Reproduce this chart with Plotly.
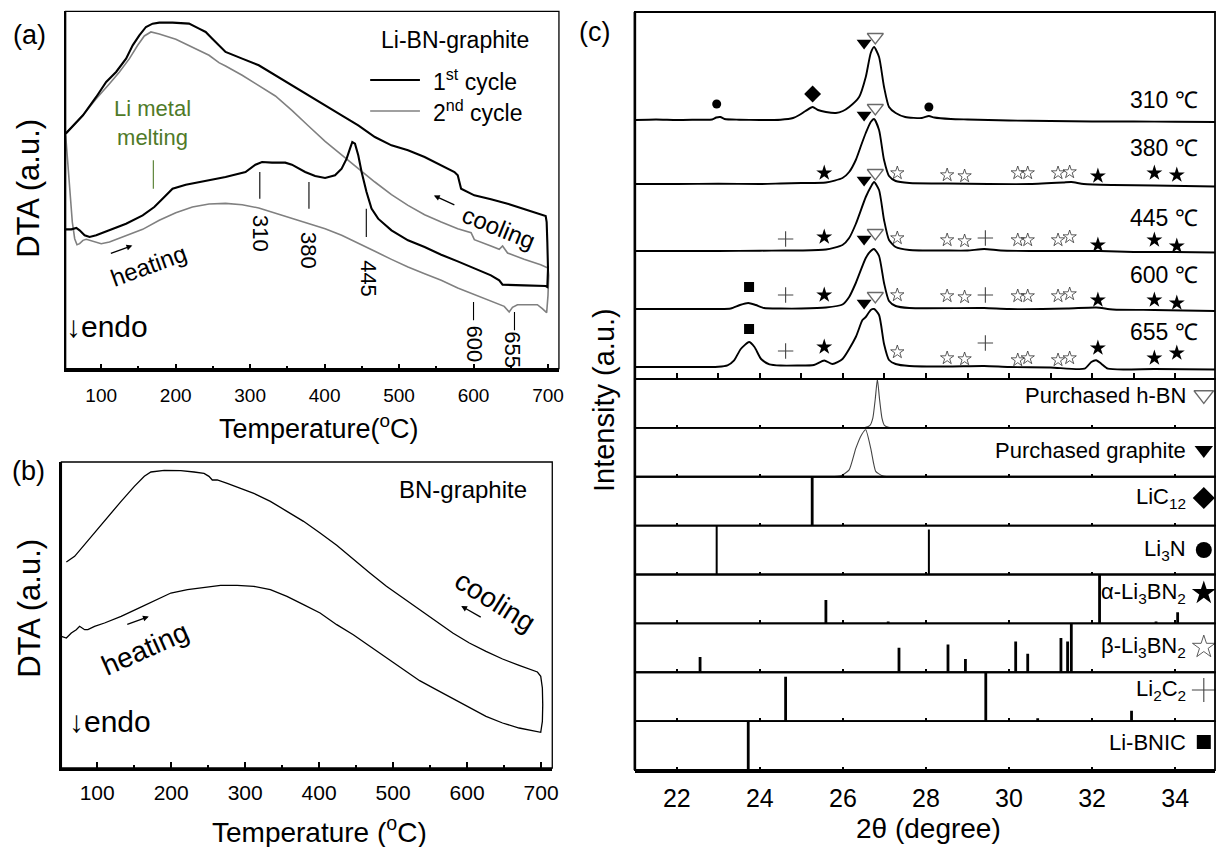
import plotly.graph_objects as go

W, H = 1223, 847
FONT = "Liberation Sans, Arial, Helvetica, sans-serif"

# ======================= DATA =======================
temp_ticks = [100, 200, 300, 400, 500, 600, 700]

# (a) Li-BN-graphite DTA, (temperature degC, DTA a.u.) - heating then cooling
dta_a_cycle1 = [(52.3, 41.8), (59.9, 41.8), (66.6, 42.2), (71.0, 41.5), (77.7, 40.0), (84.4, 39.5), (93.3, 40.0),
                (111.1, 41.5), (133.4, 43.5), (155.7, 46.0), (171.3, 48.5), (182.4, 51.0), (195.8, 54.0),
                (213.6, 55.2), (244.8, 56.5), (267.0, 57.5), (293.8, 59.0), (307.1, 61.2), (316.0, 62.0),
                (329.4, 61.8), (347.2, 61.8), (356.1, 61.2), (373.9, 59.0), (387.3, 57.8), (400.7, 57.2),
                (414.0, 58.0), (422.9, 60.0), (429.6, 63.0), (434.1, 66.0), (437.2, 68.0), (440.8, 67.5),
                (445.2, 64.0), (449.7, 59.0), (456.3, 53.0), (463.0, 48.0), (471.9, 45.0), (489.8, 41.5),
                (512.0, 38.5), (534.3, 36.5), (556.6, 34.2), (578.8, 32.2), (601.1, 30.0), (623.4, 28.0),
                (634.5, 26.5), (639.0, 25.2), (667.9, 25.0), (696.9, 24.8), (699.1, 24.5), (700.0, 30.0),
                (699.1, 38.0), (698.2, 44.0), (696.9, 45.8), (667.9, 48.0), (645.7, 49.5), (623.4, 50.8),
                (601.1, 52.0), (583.3, 54.0), (578.8, 58.0), (574.4, 59.0), (556.6, 61.0), (534.3, 63.5),
                (512.0, 65.5), (489.8, 67.0), (467.5, 69.5), (445.2, 73.0), (422.9, 76.0), (400.7, 79.0),
                (378.4, 82.0), (356.1, 85.0), (333.9, 88.0), (311.6, 91.0), (289.3, 93.0), (267.0, 95.0),
                (249.2, 99.0), (240.3, 101.0), (231.4, 102.0), (218.0, 103.5), (195.8, 103.8), (178.0, 103.8),
                (169.0, 103.5), (160.1, 102.5), (151.2, 100.0), (142.3, 97.0), (133.4, 93.0), (120.0, 89.0),
                (106.7, 86.0), (93.3, 81.5), (75.5, 76.0), (62.1, 73.0), (52.3, 70.5)]

dta_a_cycle2 = [(52.3, 70.0), (55.5, 61.0), (57.7, 52.0), (61.2, 44.0), (64.4, 39.0), (67.5, 37.2), (71.0, 37.5),
                (75.5, 38.5), (80.0, 38.8), (88.9, 38.3), (100.0, 37.5), (111.1, 38.0), (133.4, 39.8),
                (155.7, 41.8), (178.0, 44.5), (200.2, 46.8), (222.5, 48.5), (244.8, 49.4), (267.0, 49.6),
                (289.3, 49.2), (311.6, 48.2), (333.9, 46.7), (356.1, 45.2), (378.4, 43.7), (400.7, 42.0),
                (422.9, 40.0), (445.2, 37.7), (467.5, 35.2), (489.8, 32.8), (512.0, 30.5), (534.3, 28.5),
                (556.6, 26.5), (578.8, 24.2), (601.1, 22.2), (623.4, 20.2), (641.2, 18.7), (647.9, 17.0),
                (652.3, 18.4), (659.0, 19.2), (685.7, 19.2), (692.4, 18.0), (698.2, 16.8), (700.0, 22.0),
                (700.9, 28.0), (700.0, 30.2), (690.2, 31.2), (667.9, 32.8), (645.7, 34.7), (639.0, 36.8),
                (634.5, 35.8), (623.4, 36.8), (601.1, 38.7), (596.7, 40.8), (578.8, 42.0), (556.6, 44.0),
                (534.3, 46.2), (512.0, 49.0), (489.8, 52.2), (467.5, 56.0), (445.2, 60.0), (422.9, 64.0),
                (400.7, 68.2), (378.4, 72.8), (356.1, 77.5), (333.9, 81.8), (311.6, 85.0), (289.3, 88.0),
                (267.0, 90.8), (258.1, 91.8), (244.8, 94.0), (222.5, 96.5), (200.2, 98.8), (178.0, 100.4),
                (166.8, 101.0), (157.9, 99.8), (149.0, 97.0), (137.9, 93.0), (124.5, 89.0), (111.1, 85.5),
                (93.3, 81.0), (75.5, 76.0), (62.1, 73.0), (52.3, 70.5)]

# (b) BN-graphite DTA
dta_b = [(51.6, 39.5), (58.3, 39.0), (65.0, 40.5), (71.7, 41.5), (76.2, 42.5), (83.0, 41.5), (87.4, 41.5),
         (96.4, 42.5), (109.9, 43.5), (132.3, 45.5), (154.7, 47.8), (177.1, 50.2), (199.6, 52.5), (222.0, 53.5),
         (244.4, 54.2), (266.8, 54.8), (289.2, 54.8), (311.7, 54.5), (334.1, 53.5), (356.5, 51.5), (378.9, 49.0),
         (401.3, 46.5), (423.8, 43.0), (446.2, 40.0), (468.6, 36.5), (491.0, 33.0), (513.5, 29.5), (535.9, 26.2),
         (558.3, 23.5), (580.7, 20.8), (603.1, 18.0), (625.6, 15.5), (648.0, 13.5), (670.4, 12.0), (699.6, 10.7),
         (701.8, 14.0), (702.3, 19.0), (701.8, 24.0), (699.6, 27.5), (695.1, 28.8), (670.4, 30.8), (648.0, 32.7),
         (625.6, 35.0), (603.1, 37.5), (580.7, 40.5), (558.3, 44.0), (535.9, 47.5), (513.5, 51.0), (491.0, 54.5),
         (468.6, 58.5), (446.2, 62.8), (423.8, 66.8), (401.3, 70.5), (378.9, 74.0), (356.5, 77.0), (334.1, 80.0),
         (311.7, 82.4), (293.7, 84.0), (275.8, 85.4), (262.3, 86.4), (255.6, 86.4), (251.1, 87.5), (244.4, 88.4),
         (230.9, 88.8), (213.0, 89.2), (190.6, 89.3), (172.6, 88.8), (163.7, 87.5), (150.2, 84.5), (132.3, 80.0),
         (109.9, 74.0), (87.4, 68.0), (69.5, 63.5), (58.3, 61.8)]

a_event_T = [313, 379, 456, 600, 655]
a_event_text = ["310", "380", "445", "600", "655"]
a_melt_T = 170

# (c) XRD, (2theta, intensity above own baseline)
two_theta_ticks = [22, 24, 26, 28, 30, 32, 34]
xrd_labels = ["310 ℃", "380 ℃", "445 ℃", "600 ℃", "655 ℃"]
xrd_310 = [(21.0, 0), (21.5, 0.5), (22.0, 0), (22.5, 0.3), (22.85, 0.5), (22.95, 2.5), (23.05, 3), (23.15, 1),
           (23.5, 0.3), (24.0, 0), (24.5, 0.3), (24.8, 2), (24.95, 5), (25.1, 9), (25.27, 13), (25.4, 10),
           (25.59, 8), (25.83, 7), (26.0, 9), (26.15, 13), (26.39, 23), (26.55, 43), (26.67, 67), (26.75, 73),
           (26.87, 63), (26.99, 33), (27.11, 13), (27.27, 7), (27.5, 3), (27.9, 2), (28.07, 4), (28.2, 2.5),
           (28.6, 1), (29.0, 0.5), (29.5, 0), (30.0, -0.5), (31.0, -1), (32.0, -1.5), (33.0, -1.5), (34.0, -1.8),
           (34.96, -2)]
xrd_380 = [(21.0, 0), (22.0, 0), (23.0, 0.3), (24.0, 0), (24.5, 0.5), (25.0, 1), (25.59, 1.5), (25.99, 6),
           (26.15, 12), (26.31, 24), (26.45, 40), (26.55, 51), (26.67, 62), (26.75, 65), (26.87, 54), (26.99, 24),
           (27.11, 8), (27.27, 3), (27.6, 1), (28.5, 0.5), (29.5, 0), (30.5, 0), (31.3, 1.5), (31.5, 2),
           (31.8, 0), (32.5, -1), (33.5, -1.5), (34.96, -2.5)]
xrd_445 = [(21.0, 0), (22.0, 0), (23.0, 0), (24.0, 0.3), (24.6, 0.5), (25.0, 0.5), (25.59, 1.5), (25.99, 6),
           (26.15, 13), (26.31, 27), (26.55, 54), (26.67, 64), (26.75, 69), (26.87, 61), (26.99, 31), (27.11, 11),
           (27.27, 4), (27.6, 1), (28.5, 0.5), (29.0, 0.5), (29.4, 2), (29.8, 0.5), (30.5, 0), (31.5, 0),
           (32.2, 0), (33.0, -1), (34.0, -1), (34.96, -1.5)]
xrd_600 = [(21.0, 0), (22.0, 0), (23.0, 0), (23.3, 0.5), (23.52, 4), (23.72, 6), (23.9, 4), (24.1, 1), (24.5, 0.5),
           (25.0, 0.5), (25.59, 1.5), (25.99, 4.5), (26.15, 12), (26.31, 26), (26.55, 51), (26.67, 58),
           (26.75, 60), (26.87, 53), (26.99, 26), (27.11, 8), (27.27, 3), (27.6, 1), (29.4, 1), (30.0, 0),
           (31.4, 0.5), (32.1, 1.5), (32.5, -0.5), (33.5, -1), (34.2, -1.5), (34.96, -2)]
xrd_655 = [(21.0, 0), (22.0, 0), (23.0, 0.3), (23.22, 1.7), (23.38, 6.7), (23.54, 18), (23.74, 25), (23.87, 20),
           (24.03, 8), (24.23, 2.7), (24.5, 1.5), (24.9, 1.5), (25.3, 2), (25.55, 6.5), (25.75, 3), (25.99, 8),
           (26.31, 30), (26.47, 47), (26.55, 50), (26.67, 57), (26.75, 58), (26.87, 52), (26.99, 23), (27.11, 7),
           (27.27, 3), (27.6, 1), (28.5, 0.5), (29.4, 1), (30.0, 0), (31.0, -0.5), (31.82, -1.7), (31.98, 5),
           (32.1, 6.7), (32.22, 3.3), (32.38, -1.7), (33.5, -2), (34.96, -2.5)]
xrd_patterns = [xrd_310, xrd_380, xrd_445, xrd_600, xrd_655]

# phase markers above each pattern: (phase, 2theta, height above baseline)
xrd_marks = [
    [("Li3N", 22.96, 16), ("LiC12", 25.27, 26), ("graphite", 26.51, 77), ("hBN", 26.78, 83), ("Li3N", 28.07, 13)],
    [("alpha", 25.55, 11), ("graphite", 26.51, 69), ("hBN", 26.78, 76), ("beta", 27.31, 11), ("beta", 28.51, 9),
     ("beta", 28.93, 8), ("beta", 30.21, 11), ("beta", 30.45, 11), ("beta", 31.18, 11), ("beta", 31.46, 12),
     ("alpha", 32.14, 8), ("alpha", 33.5, 11), ("alpha", 34.04, 9)],
    [("Li2C2", 24.62, 12), ("alpha", 25.55, 14), ("graphite", 26.51, 71), ("hBN", 26.78, 78), ("beta", 27.31, 13),
     ("beta", 28.51, 11), ("beta", 28.93, 10), ("Li2C2", 29.43, 13), ("beta", 30.21, 11), ("beta", 30.45, 11),
     ("beta", 31.18, 11), ("beta", 31.46, 14), ("alpha", 32.14, 6), ("alpha", 33.5, 11), ("alpha", 34.04, 5)],
    [("BNIC", 23.74, 22), ("Li2C2", 24.62, 14), ("alpha", 25.55, 14), ("graphite", 26.51, 70), ("hBN", 26.78, 76),
     ("beta", 27.31, 14), ("beta", 28.51, 13), ("beta", 28.93, 12), ("Li2C2", 29.43, 14), ("beta", 30.21, 13),
     ("beta", 30.45, 13), ("beta", 31.18, 13), ("beta", 31.46, 15), ("alpha", 32.14, 9), ("alpha", 33.5, 9),
     ("alpha", 34.04, 6)],
    [("BNIC", 23.74, 38), ("Li2C2", 24.62, 16), ("alpha", 25.55, 20), ("graphite", 26.51, 64), ("hBN", 26.78, 71),
     ("beta", 27.31, 15), ("beta", 28.51, 9), ("beta", 28.93, 8), ("Li2C2", 29.43, 24), ("beta", 30.21, 7),
     ("beta", 30.45, 9), ("beta", 31.18, 7), ("beta", 31.46, 9), ("alpha", 32.14, 19), ("alpha", 33.5, 9),
     ("alpha", 34.04, 14)],
]

ref_labels = ["Purchased h-BN", "Purchased graphite", "LiC<sub>12</sub>", "Li<sub>3</sub>N",
              "α-Li<sub>3</sub>BN<sub>2</sub>", "β-Li<sub>3</sub>BN<sub>2</sub>", "Li<sub>2</sub>C<sub>2</sub>",
              "Li-BNIC"]
ref_keys = ["hBN", "graphite", "LiC12", "Li3N", "alpha", "beta", "Li2C2", "BNIC"]
ref_hbn = [(26.3, 0), (26.55, 1), (26.65, 5), (26.72, 20), (26.78, 60), (26.83, 100), (26.88, 60), (26.94, 20),
           (27.0, 5), (27.1, 1), (27.4, 0)]
ref_graphite = [(25.71, 0), (25.95, 2), (26.15, 14), (26.31, 58), (26.45, 86), (26.55, 96), (26.67, 58),
                (26.79, 11), (26.95, 2), (27.1, 0)]
ref_sticks = {
    "LiC12": [(25.26, 100)],
    "Li3N": [(22.96, 100), (28.07, 92)],
    "alpha": [(25.59, 48), (27.09, 4), (32.18, 100), (33.54, 4), (34.06, 23)],
    "beta": [(22.56, 31), (27.35, 50), (28.53, 57), (28.95, 27), (30.16, 63), (30.45, 38), (31.25, 70),
             (31.41, 63), (31.5, 100)],
    "Li2C2": [(24.62, 91), (29.44, 100), (30.69, 6), (32.95, 21)],
    "BNIC": [(23.72, 100)],
}

# ======================= LAYOUT / STYLE =======================
def X(p):
    return p / W


def Y(p):
    return 1 - p / H


a_box = (66, 561.7, 11.3, 368.7)
b_box = (61.7, 555, 462, 768)
c_x = (638, 1221)
c_top = (12, 379)
c_bot = 770
n_ref = 8
ref_h = (c_bot - c_top[1]) / n_ref
row_base = [259, 195, 128, 70, 12]
row_label_y = [279, 231, 161, 104, 47]
ref_label_py = [395, 450, 498, 550, 593, 647, 690, 742]

sym = {
    "Li3N": dict(symbol="circle", size=9, color="black", line=dict(width=0)),
    "LiC12": dict(symbol="diamond", size=13, color="black", line=dict(width=0)),
    "graphite": dict(symbol="triangle-down", size=13, color="black", line=dict(width=0)),
    "hBN": dict(symbol="triangle-down-open", size=14, color="#6a6a6a", line=dict(width=1.3, color="#6a6a6a")),
    "alpha": dict(symbol="star", size=12, color="black", line=dict(width=0)),
    "beta": dict(symbol="star-open", size=10, color="#333", line=dict(width=0.8, color="#333")),
    "Li2C2": dict(symbol="cross-thin-open", size=11, color="#444", line=dict(width=1.1, color="#444")),
    "BNIC": dict(symbol="square", size=10, color="black", line=dict(width=0)),
}
label_sym_size = {"hBN": 17, "graphite": 16, "LiC12": 17, "Li3N": 16, "alpha": 18, "beta": 17, "Li2C2": 17,
                  "BNIC": 14}

fig = go.Figure()

# ---- (a)
for data, col, wd in [(dta_a_cycle2, "#808080", 1.6), (dta_a_cycle1, "black", 2.1)]:
    fig.add_trace(go.Scatter(x=[p[0] for p in data], y=[p[1] for p in data], mode="lines",
                             line=dict(color=col, width=wd), xaxis="x", yaxis="y", hoverinfo="skip"))
# ---- (b)
fig.add_trace(go.Scatter(x=[p[0] for p in dta_b], y=[p[1] for p in dta_b], mode="lines",
                         line=dict(color="black", width=1.3), xaxis="x2", yaxis="y2", hoverinfo="skip"))

# ---- (c) patterns
for pat, base in zip(xrd_patterns, row_base):
    fig.add_trace(go.Scatter(x=[p[0] for p in pat], y=[base + p[1] for p in pat], mode="lines",
                             line=dict(color="black", width=1.9, shape="spline", smoothing=0.6),
                             xaxis="x3", yaxis="y3", hoverinfo="skip"))
for marks, base in zip(xrd_marks, row_base):
    for key in sym:
        pts = [m for m in marks if m[0] == key]
        if not pts:
            continue
        fig.add_trace(go.Scatter(x=[m[1] for m in pts], y=[base + m[2] for m in pts], mode="markers",
                                 marker=sym[key], xaxis="x3", yaxis="y3", hoverinfo="skip", cliponaxis=False))

# reference panels
for i, key in enumerate(ref_keys):
    ax = str(4 + i)
    if key == "hBN" or key == "graphite":
        d = ref_hbn if key == "hBN" else ref_graphite
        fig.add_trace(go.Scatter(x=[p[0] for p in d], y=[p[1] for p in d], mode="lines",
                                 line=dict(color="#444", width=1.1, shape="spline", smoothing=0.5),
                                 xaxis="x" + ax, yaxis="y" + ax, hoverinfo="skip"))
    else:
        xs, ys = [], []
        for pos, hh in ref_sticks[key]:
            xs += [pos, pos, None]
            ys += [0, hh, None]
        fig.add_trace(go.Scatter(x=xs, y=ys, mode="lines",
                                 line=dict(color="black", width=2.0 if key == "Li3N" else 2.8),
                                 xaxis="x" + ax, yaxis="y" + ax, hoverinfo="skip"))
    # label symbol
    top = c_top[1] + i * ref_h
    yv = (top + ref_h - ref_label_py[i]) / ref_h * 100
    m = dict(sym[key])
    m["size"] = label_sym_size[key]
    fig.add_trace(go.Scatter(x=[34.69], y=[yv], mode="markers", marker=m, xaxis="x" + ax, yaxis="y" + ax,
                             hoverinfo="skip", cliponaxis=False))

layout = dict(
    width=W, height=H, margin=dict(l=0, r=0, t=0, b=0), autosize=False,
    paper_bgcolor="white", plot_bgcolor="white", showlegend=False,
    font=dict(family=FONT, color="black", size=16),
)

tick_common = dict(showgrid=False, zeroline=False, ticks="inside", tickcolor="black", tickwidth=1.5)

layout["xaxis"] = dict(domain=[X(a_box[0]), X(a_box[1])], range=[52.3, 714.7], anchor="y",
                       tickvals=temp_ticks, ticklen=5, showline=True, linewidth=2.5, linecolor="black",
                       tickfont=dict(size=19), ticklabelstandoff=8,
                       minor=dict(dtick=50, tick0=50, ticklen=3, ticks="inside", tickcolor="black", tickwidth=1.5),
                       **tick_common)
layout["yaxis"] = dict(domain=[Y(a_box[3]), Y(a_box[2])], range=[0, 107.2], anchor="x", showticklabels=False,
                       showline=True, linewidth=2, linecolor="black", showgrid=False, zeroline=False)
layout["xaxis2"] = dict(domain=[X(b_box[0]), X(b_box[1])], range=[51.6, 715.2], anchor="y2",
                        tickvals=temp_ticks, ticklen=6, showline=True, linewidth=2.5, linecolor="black",
                        tickfont=dict(size=21), ticklabelstandoff=4,
                        minor=dict(dtick=50, tick0=50, ticklen=3, ticks="inside", tickcolor="black", tickwidth=1.5),
                        **tick_common)
layout["yaxis2"] = dict(domain=[Y(b_box[3]), Y(b_box[2])], range=[0, 91.8], anchor="x2", showticklabels=False,
                        showline=True, linewidth=2, linecolor="black", showgrid=False, zeroline=False)
layout["xaxis3"] = dict(domain=[X(c_x[0]), X(c_x[1])], range=[20.99, 34.96], anchor="y3", dtick=1, tick0=21,
                        ticklen=6, showticklabels=False, **tick_common)
layout["yaxis3"] = dict(domain=[Y(c_top[1]), Y(c_top[0])], range=[0, 367], anchor="x3", showticklabels=False,
                        showgrid=False, zeroline=False)
for i in range(n_ref):
    k = 4 + i
    top = c_top[1] + i * ref_h
    xa = dict(domain=[X(c_x[0]), X(c_x[1])], range=[20.99, 34.96], anchor="y%d" % k,
              tickvals=two_theta_ticks, ticklen=3, showticklabels=(i == n_ref - 1), **tick_common)
    if i == n_ref - 1:
        xa.update(tickfont=dict(size=25), ticklabelstandoff=4, showline=True, linewidth=2.5, linecolor="black")
    layout["xaxis%d" % k] = xa
    layout["yaxis%d" % k] = dict(domain=[Y(top + ref_h), Y(top)], range=[0, 100], anchor="x%d" % k,
                                 showticklabels=False, showgrid=False, zeroline=False)

fig.update_layout(**layout)

shapes = []
# boxes
for xr, yr, w in [("x", "y", 1.3), ("x2", "y2", 1.3), ("x3", "y3", 1.8)] + \
        [("x%d" % (4 + i), "y%d" % (4 + i), 1.8) for i in range(n_ref)]:
    shapes.append(dict(type="rect", xref=xr + " domain", yref=yr + " domain", x0=0, x1=1, y0=0, y1=1,
                       line=dict(color="black", width=w), layer="above"))
shapes.append(dict(type="line", xref="paper", yref="paper", x0=X(c_x[0]), x1=X(c_x[0]), y0=Y(c_top[0]),
                   y1=Y(c_bot), line=dict(color="black", width=2.6)))
# event ticks in (a)
event_span = [(51, 59), (48, 56), (39.5, 48), (14.5, 20), (11.5, 17)]
for t, (y0, y1) in zip(a_event_T, event_span):
    shapes.append(dict(type="line", xref="x", yref="y", x0=t, x1=t, y0=y0, y1=y1,
                       line=dict(color="black", width=1.1)))
shapes.append(dict(type="line", xref="x", yref="y", x0=a_melt_T, x1=a_melt_T, y0=54, y1=62.5,
                   line=dict(color="#4f7a28", width=1.1)))
# legend lines (a)
shapes.append(dict(type="line", xref="paper", yref="paper", x0=X(372), x1=X(422), y0=Y(80), y1=Y(80),
                   line=dict(color="black", width=2.1)))
shapes.append(dict(type="line", xref="paper", yref="paper", x0=X(372), x1=X(422), y0=Y(111), y1=Y(111),
                   line=dict(color="#808080", width=1.6)))

ann = []


def A(text, px, py, size, angle=0, xanchor="center", color="black", family=FONT):
    ann.append(dict(text=text, x=X(px), y=Y(py), xref="paper", yref="paper", showarrow=False,
                    xanchor=xanchor, yanchor="middle", textangle=angle,
                    font=dict(size=size, color=color, family=family)))


def ARROW(head_px, head_py, dx, dy):
    # thin drawn arrow: head at (head_px, head_py), tail offset (dx, dy) in pixels
    ann.append(dict(text="", x=X(head_px), y=Y(head_py), xref="paper", yref="paper", showarrow=True,
                    ax=dx, ay=dy, axref="pixel", ayref="pixel", arrowhead=2, arrowsize=0.9,
                    arrowwidth=1.3, arrowcolor="black", standoff=0, startstandoff=0))


# panel labels
A("(a)", 30, 35, 27)
A("(b)", 29, 471, 27)
A("(c)", 597, 32, 27)
# (a) texts
A("DTA (a.u.)", 28, 188, 31, angle=-90)
A("Temperature(<sup>o</sup>C)", 321, 427, 27)
A("Li-BN-graphite", 457, 40, 23)
A("1<sup>st</sup> cycle", 433, 80, 23, xanchor="left")
A("2<sup>nd</sup> cycle", 433, 111, 23, xanchor="left")
A("Li metal<br>melting", 153, 123, 22, color="#4f7a28")
ARROW(133, 245.5, -23, 8.5)
A("heating", 149, 265, 24, angle=-20)
ARROW(436, 195.5, 22, 10)
A("cooling", 501, 227, 24, angle=22)
A("↓endo", 108, 326, 30)
# (b) texts
A("DTA (a.u.)", 29, 608, 31, angle=-90)
A("Temperature (<sup>o</sup>C)", 321, 830, 28)
A("BN-graphite", 465, 490, 24)
ARROW(149.5, 616.5, -23, 8.5)
A("heating", 146, 648, 28, angle=-24)
ARROW(463.5, 606, 21, 12)
A("cooling", 498, 601, 28, angle=32)
A("↓endo", 111, 721, 30)
# (c) texts
A("Intensity (a.u.)", 607, 400, 29, angle=-90)
A("2θ (degree)", 933, 828, 28)
for i, lab in enumerate(ref_labels):
    A(lab, 1194, ref_label_py[i], 22, xanchor="right")

# event labels in (a)
event_label_pos = [(314, 40.5), (379, 35.3), (459, 27.0), (601, 7.5), (653, 5.5)]
for txt, (t, v) in zip(a_event_text, event_label_pos):
    ann.append(dict(text=txt, x=t, y=v, xref="x", yref="y", showarrow=False, textangle=90,
                    xanchor="center", yanchor="middle", font=dict(size=22, family=FONT, color="black")))
# row labels in (c)
for txt, yv in zip(xrd_labels, row_label_y):
    ann.append(dict(text=txt, x=34.6, y=yv, xref="x3", yref="y3", showarrow=False, xanchor="right",
                    yanchor="middle", font=dict(size=23, family=FONT, color="black")))

fig.update_layout(shapes=shapes, annotations=ann)
fig.write_html("out.html")
